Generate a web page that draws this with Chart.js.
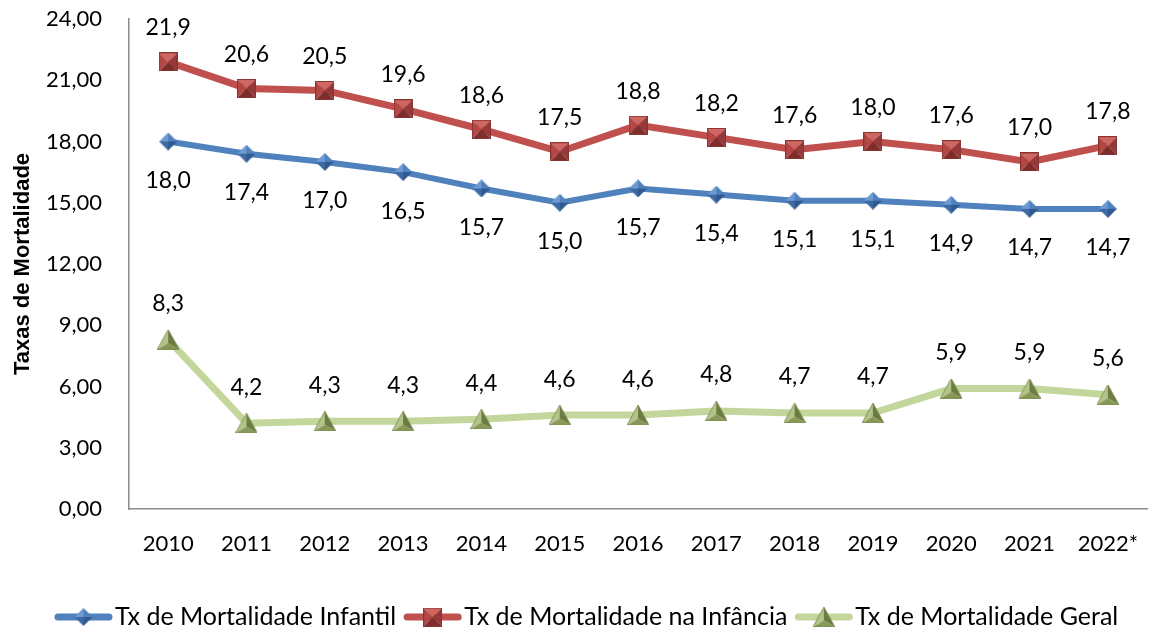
<!DOCTYPE html>
<html><head><meta charset="utf-8">
<script src="https://cdn.jsdelivr.net/npm/chart.js@4.4.0/dist/chart.umd.min.js"></script>
<style>html,body{margin:0;padding:0;background:#fff}#wrap{width:1158px;height:633px;position:relative}</style>
</head><body><div id="wrap"><canvas id="c" width="1158" height="633"></canvas></div>
<script>
const categories = ['2010','2011','2012','2013','2014','2015','2016','2017','2018','2019','2020','2021','2022*'];
const infantil = [18.0,17.4,17.0,16.5,15.7,15.0,15.7,15.4,15.1,15.1,14.9,14.7,14.7];
const infancia = [21.9,20.6,20.5,19.6,18.6,17.5,18.8,18.2,17.6,18.0,17.6,17.0,17.8];
const geral = [8.3,4.2,4.3,4.3,4.4,4.6,4.6,4.8,4.7,4.7,5.9,5.9,5.6];
const seriesNames = ['Tx de Mortalidade Infantil','Tx de Mortalidade na Infância','Tx de Mortalidade Geral'];
const yMin = 0, yMax = 24, yStep = 3;
const yTitle = 'Taxas de Mortalidade';

const FONT = 'Lato, Carlito, Calibri, sans-serif';

function tri(g, a, b, c, col) {
  g.beginPath(); g.moveTo(a[0], a[1]); g.lineTo(b[0], b[1]); g.lineTo(c[0], c[1]); g.closePath();
  g.fillStyle = col; g.fill();
}
function makeSquare(s) {
  const c = document.createElement('canvas'); c.width = s; c.height = s;
  const g = c.getContext('2d'); const m = s / 2;
  tri(g, [0,0], [s,0], [m,m], '#cf6662');
  tri(g, [s,0], [s,s], [m,m], '#96393a');
  tri(g, [s,s], [0,s], [m,m], '#7e2d2c');
  tri(g, [0,s], [0,0], [m,m], '#b24744');
  g.strokeStyle = '#8a3432'; g.lineWidth = 1; g.strokeRect(0.5, 0.5, s - 1, s - 1);
  return c;
}
function makeDiamond(w, h) {
  const c = document.createElement('canvas'); c.width = w; c.height = h;
  const g = c.getContext('2d'); const mx = w / 2, my = h / 2;
  const T = [mx,0], R = [w,my], B = [mx,h], L = [0,my], C = [mx,my];
  tri(g, L, T, C, '#6d9ad2');
  tri(g, T, R, C, '#4f81bd');
  tri(g, R, B, C, '#2f5a8f');
  tri(g, B, L, C, '#3d6aa3');
  return c;
}
function makeTriangle(w, h) {
  const c = document.createElement('canvas'); c.width = w; c.height = h;
  const g = c.getContext('2d');
  const T = [w/2, 0], R = [w, h], L = [0, h], C = [w/2, h*0.68];
  tri(g, L, T, C, '#b3c489');
  tri(g, T, R, C, '#6b7b42');
  tri(g, R, L, C, '#879858');
  g.strokeStyle = '#76864a'; g.lineWidth = 0.8;
  g.beginPath(); g.moveTo(T[0], T[1]); g.lineTo(R[0], R[1]); g.lineTo(L[0], L[1]); g.closePath(); g.stroke();
  return c;
}
const mkBlue = makeDiamond(18, 18);
const mkRed = makeSquare(19);
const mkGreen = makeTriangle(22, 20);

const dataLabels = {
  id: 'dataLabels',
  afterDatasetsDraw(chart) {
    const ctx = chart.ctx;
    ctx.save();
    ctx.font = '23px ' + FONT;
    ctx.fillStyle = '#000';
    ctx.textAlign = 'center';
    ctx.textBaseline = 'middle';
    chart.data.datasets.forEach((ds, i) => {
      const meta = chart.getDatasetMeta(i);
      meta.data.forEach((pt, j) => {
        const v = ds.data[j];
        ctx.fillText(v.toFixed(1).replace('.', ','), pt.x, pt.y + ds.labelOffset);
      });
    });
    ctx.restore();
  }
};

const legendPlugin = {
  id: 'customLegend',
  afterDraw(chart) {
    const ctx = chart.ctx;
    ctx.save();
    ctx.font = '25px ' + FONT;
    const lineW = 57, gapText = 3, gapItem = 8;
    let x = 55;
    const y = 617;
    chart.data.datasets.forEach(ds => {
      const tw = ctx.measureText(ds.label).width;
      ctx.strokeStyle = ds.borderColor;
      ctx.lineWidth = 7; ctx.lineCap = 'round';
      ctx.beginPath(); ctx.moveTo(x + 3, y); ctx.lineTo(x + lineW - 3, y); ctx.stroke();
      const img = ds.pointStyle;
      ctx.drawImage(img, x + lineW / 2 - img.width / 2, y - img.height / 2);
      ctx.fillStyle = '#000'; ctx.textAlign = 'left'; ctx.textBaseline = 'middle';
      ctx.fillText(ds.label, x + lineW + gapText, y);
      x += lineW + gapText + tw + gapItem;
    });
    ctx.restore();
  }
};

new Chart(document.getElementById('c'), {
  type: 'line',
  data: {
    labels: categories,
    datasets: [
      { label: seriesNames[0], data: infantil, borderColor: '#4f81bd', borderWidth: 6, pointStyle: mkBlue, labelOffset: 39, tension: 0 },
      { label: seriesNames[1], data: infancia, borderColor: '#c0504d', borderWidth: 7, pointStyle: mkRed, labelOffset: -34, tension: 0 },
      { label: seriesNames[2], data: geral, borderColor: '#c3d69b', borderWidth: 7, pointStyle: mkGreen, labelOffset: -36, tension: 0 }
    ]
  },
  options: {
    responsive: false,
    animation: false,
    layout: { padding: { left: 0, top: 19, right: 3, bottom: 64 } },
    plugins: { legend: { display: false }, tooltip: { enabled: false } },
    scales: {
      x: {
        type: 'category', offset: true,
        grid: { display: false, drawTicks: false },
        border: { display: true, color: '#8c8c8c', width: 1.5 },
        ticks: { color: '#000', font: { family: FONT, size: 22 }, padding: 22, maxRotation: 0, autoSkip: false },
        afterFit(s) { s.height = 60; s.paddingLeft = 0; s.paddingRight = 0; }
      },
      y: {
        min: yMin, max: yMax,
        grid: { display: false, drawTicks: false },
        border: { display: true, color: '#8c8c8c', width: 1.5 },
        ticks: { stepSize: yStep, color: '#000', font: { family: FONT, size: 22 }, padding: 27,
          callback: v => Number(v).toFixed(2).replace('.', ',') },
        title: { display: true, text: yTitle, color: '#000', font: { family: 'Liberation Sans, Arial, sans-serif', size: 22, weight: 'bold' }, padding: { top: 10, bottom: 0 } },
        afterFit(s) { s.width = 129; s.paddingTop = 0; s.paddingBottom = 0; }
      }
    }
  },
  plugins: [dataLabels, legendPlugin]
});
</script></body></html>
